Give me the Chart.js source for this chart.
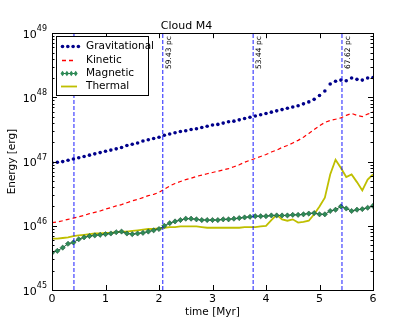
<!DOCTYPE html>
<html>
<head>
<meta charset="utf-8">
<script src="https://cdn.jsdelivr.net/npm/chart.js@4/dist/chart.umd.min.js"></script>
<style>
  html, body { margin: 0; padding: 0; background: #fff; }
  canvas { display: block; }
</style>
</head>
<body>
<canvas id="energyChart" width="415" height="332"></canvas>
<script>
// time axis [Myr]
const time = [
  0.0, 0.1, 0.2, 0.3, 0.4, 0.5, 0.6, 0.7, 0.8, 0.9,
  1.0, 1.1, 1.2, 1.3, 1.4, 1.5, 1.6, 1.7, 1.8, 1.9,
  2.0, 2.1, 2.2, 2.3, 2.4, 2.5, 2.6, 2.7, 2.8, 2.9,
  3.0, 3.1, 3.2, 3.3, 3.4, 3.5, 3.6, 3.7, 3.8, 3.9,
  4.0, 4.1, 4.2, 4.3, 4.4, 4.5, 4.6, 4.7, 4.8, 4.9,
  5.0, 5.1, 5.2, 5.3, 5.4, 5.5, 5.6, 5.7, 5.8, 5.9, 6.0
];

// energies [erg]
const gravitational = [
  9.55e46, 9.77e46, 1.00e47, 1.05e47, 1.10e47, 1.15e47, 1.20e47, 1.26e47, 1.32e47, 1.38e47,
  1.45e47, 1.51e47, 1.58e47, 1.66e47, 1.78e47, 1.86e47, 1.95e47, 2.09e47, 2.19e47, 2.29e47,
  2.40e47, 2.57e47, 2.69e47, 2.82e47, 2.95e47, 3.02e47, 3.16e47, 3.24e47, 3.39e47, 3.55e47,
  3.72e47, 3.80e47, 3.98e47, 4.17e47, 4.27e47, 4.47e47, 4.68e47, 4.90e47, 5.13e47, 5.37e47,
  5.62e47, 5.89e47, 6.17e47, 6.46e47, 6.76e47, 7.08e47, 7.41e47, 7.94e47, 8.51e47, 9.33e47,
  1.07e48, 1.26e48, 1.62e48, 1.78e48, 1.86e48, 1.82e48, 2.00e48, 1.91e48, 1.86e48, 2.00e48, 2.04e48
];
const kinetic = [
  1.12e46, 1.15e46, 1.20e46, 1.26e46, 1.32e46, 1.38e46, 1.45e46, 1.55e46, 1.62e46, 1.70e46,
  1.82e46, 1.91e46, 2.04e46, 2.14e46, 2.29e46, 2.45e46, 2.57e46, 2.75e46, 2.95e46, 3.09e46,
  3.31e46, 3.72e46, 4.17e46, 4.57e46, 4.90e46, 5.25e46, 5.50e46, 5.89e46, 6.17e46, 6.46e46,
  6.76e46, 7.08e46, 7.41e46, 7.76e46, 8.32e46, 8.91e46, 9.77e46, 1.05e47, 1.12e47, 1.20e47,
  1.29e47, 1.41e47, 1.51e47, 1.66e47, 1.78e47, 1.95e47, 2.14e47, 2.40e47, 2.75e47, 3.16e47,
  3.63e47, 4.07e47, 4.37e47, 4.57e47, 4.79e47, 5.25e47, 5.62e47, 5.25e47, 5.01e47, 5.50e47, 5.89e47
];
const magnetic = [
  3.80e45, 4.07e45, 4.57e45, 5.25e45, 5.50e45, 6.17e45, 6.61e45, 6.92e45, 7.08e45, 7.24e45,
  7.41e45, 7.59e45, 7.94e45, 8.13e45, 7.59e45, 7.41e45, 7.59e45, 7.76e45, 8.13e45, 8.51e45,
  8.91e45, 1.00e46, 1.10e46, 1.17e46, 1.23e46, 1.29e46, 1.29e46, 1.26e46, 1.23e46, 1.23e46,
  1.23e46, 1.23e46, 1.26e46, 1.26e46, 1.29e46, 1.32e46, 1.35e46, 1.38e46, 1.41e46, 1.41e46,
  1.41e46, 1.45e46, 1.45e46, 1.45e46, 1.45e46, 1.48e46, 1.48e46, 1.51e46, 1.55e46, 1.58e46,
  1.51e46, 1.51e46, 1.70e46, 1.78e46, 2.00e46, 1.86e46, 1.70e46, 1.78e46, 1.82e46, 1.91e46, 2.04e46
];
const thermal = [
  6.31e45, 6.31e45, 6.46e45, 6.61e45, 6.92e45, 7.08e45, 7.24e45, 7.41e45, 7.59e45, 7.59e45,
  7.76e45, 7.76e45, 7.94e45, 8.13e45, 8.13e45, 8.32e45, 8.51e45, 8.71e45, 8.91e45, 8.91e45,
  9.12e45, 9.33e45, 9.55e45, 9.55e45, 9.77e45, 9.77e45, 9.77e45, 9.77e45, 9.55e45, 9.33e45,
  9.33e45, 9.33e45, 9.33e45, 9.33e45, 9.33e45, 9.33e45, 9.55e45, 9.55e45, 9.55e45, 9.77e45,
  1.00e46, 1.23e46, 1.48e46, 1.26e46, 1.20e46, 1.26e46, 1.12e46, 1.15e46, 1.20e46, 1.51e46,
  2.00e46, 2.75e46, 6.31e46, 1.07e47, 7.94e46, 5.75e46, 6.31e46, 4.79e46, 3.55e46, 5.25e46, 6.31e46
];

// dashed vertical markers and their labels
const markerTimes = [0.41, 2.07, 3.76, 5.42];
const markerLabels = ["", "59.43 pc", "53.44 pc", "67.62 pc"];

// y axis decades
const yDecades = [45, 46, 47, 48, 49];
const xTicks = [0, 1, 2, 3, 4, 5, 6];

const FONT = "'DejaVu Sans', 'Liberation Sans', sans-serif";

function pairs(ys) {
  return time.map((t, i) => ({ x: t, y: ys[i] }));
}

const series = [
  {
    label: "Gravitational",
    data: pairs(gravitational),
    showLine: false,
    pointRadius: 1.8,
    pointBackgroundColor: "#00008b",
    pointBorderWidth: 0,
    borderColor: "#00008b",
  },
  {
    label: "Kinetic",
    data: pairs(kinetic),
    borderColor: "#ff0000",
    borderWidth: 1.2,
    borderDash: [4, 3],
    pointRadius: 0,
  },
  {
    label: "Magnetic",
    data: pairs(magnetic),
    borderColor: "#1f6b3c",
    borderWidth: 1,
    pointStyle: "rectRot",
    pointRadius: 2.6,
    pointBackgroundColor: "#2e8b57",
    pointBorderColor: "#1d5234",
    pointBorderWidth: 0.6,
  },
  {
    label: "Thermal",
    data: pairs(thermal),
    borderColor: "#bfbf00",
    borderWidth: 1.8,
    pointRadius: 0,
  },
];

const markerSets = markerTimes.map((t) => ({
  label: "marker",
  data: [{ x: t, y: 1e45 }, { x: t, y: 1e49 }],
  borderColor: "rgba(0, 0, 255, 0.75)",
  borderWidth: 1.2,
  borderDash: [4, 2],
  pointRadius: 0,
}));

// frame, inward ticks, y labels, marker labels and legend box
const framePlugin = {
  id: "frame",
  afterDraw(chart) {
    const ctx = chart.ctx;
    const a = chart.chartArea;
    const xs = chart.scales.x;
    const ys = chart.scales.y;
    ctx.save();

    // marker labels
    ctx.fillStyle = "#000";
    ctx.font = "7.5px " + FONT;
    ctx.textAlign = "right";
    ctx.textBaseline = "middle";
    markerTimes.forEach((t, i) => {
      if (!markerLabels[i]) return;
      const px = xs.getPixelForValue(t);
      ctx.save();
      ctx.translate(px + 6, a.top + 3);
      ctx.rotate(-Math.PI / 2);
      ctx.fillText(markerLabels[i], 0, 0);
      ctx.restore();
    });

    // y tick labels as 10^n
    yDecades.forEach((e) => {
      const py = ys.getPixelForValue(Math.pow(10, e));
      ctx.font = "8px " + FONT;
      ctx.textAlign = "left";
      ctx.textBaseline = "alphabetic";
      const ew = ctx.measureText(String(e)).width;
      const right = a.left - 5;
      ctx.fillText(String(e), right - ew, py - 2);
      ctx.font = "11px " + FONT;
      ctx.textAlign = "right";
      ctx.fillText("10", right - ew, py + 4.5);
    });

    ctx.strokeStyle = "#000";
    ctx.lineWidth = 1;
    ctx.strokeRect(Math.round(a.left) + 0.5, Math.round(a.top) + 0.5,
      Math.round(a.right - a.left), Math.round(a.bottom - a.top));

    ctx.beginPath();
    xTicks.forEach((t) => {
      const px = Math.round(xs.getPixelForValue(t)) + 0.5;
      ctx.moveTo(px, a.bottom); ctx.lineTo(px, a.bottom - 5);
      ctx.moveTo(px, a.top); ctx.lineTo(px, a.top + 5);
    });
    yDecades.forEach((e) => {
      const py = Math.round(ys.getPixelForValue(Math.pow(10, e))) + 0.5;
      ctx.moveTo(a.left, py); ctx.lineTo(a.left + 5, py);
      ctx.moveTo(a.right, py); ctx.lineTo(a.right - 5, py);
      if (e === 49) return;
      for (let k = 2; k <= 9; k++) {
        const pm = Math.round(ys.getPixelForValue(k * Math.pow(10, e))) + 0.5;
        ctx.moveTo(a.left, pm); ctx.lineTo(a.left + 2.5, pm);
        ctx.moveTo(a.right, pm); ctx.lineTo(a.right - 2.5, pm);
      }
    });
    ctx.stroke();

    // legend
    const lx = a.left + 4, ly = a.top + 3, lw = 92, lh = 59;
    ctx.fillStyle = "#fff";
    ctx.fillRect(lx, ly, lw, lh);
    ctx.strokeStyle = "#000";
    ctx.strokeRect(Math.round(lx) + 0.5, Math.round(ly) + 0.5, lw, lh);
    ctx.font = "10.5px " + FONT;
    ctx.textAlign = "left";
    ctx.textBaseline = "middle";
    series.forEach((s, i) => {
      const y = Math.round(ly + 10 + i * 13.3) + 0.5;
      const x0 = lx + 5, x1 = lx + 25;
      ctx.save();
      if (s.label === "Gravitational") {
        ctx.fillStyle = "#00008b";
        for (let k = 0; k < 4; k++) {
          ctx.beginPath();
          ctx.arc(x0 + 1.5 + k * 5.3, y, 1.8, 0, Math.PI * 2);
          ctx.fill();
        }
      } else if (s.label === "Magnetic") {
        ctx.strokeStyle = "#1f6b3c";
        ctx.lineWidth = 1;
        ctx.beginPath(); ctx.moveTo(x0, y); ctx.lineTo(x1 - 4, y); ctx.stroke();
        for (let k = 0; k < 4; k++) {
          const cx = x0 + 1.5 + k * 4.4;
          ctx.fillStyle = "#2e8b57";
          ctx.beginPath();
          ctx.moveTo(cx, y - 2.8); ctx.lineTo(cx + 2, y); ctx.lineTo(cx, y + 2.8); ctx.lineTo(cx - 2, y);
          ctx.closePath();
          ctx.fill();
        }
      } else if (s.label === "Kinetic") {
        ctx.strokeStyle = "#ff0000";
        ctx.lineWidth = 1.3;
        ctx.setLineDash([4, 3]);
        ctx.beginPath(); ctx.moveTo(x0 + 1, y); ctx.lineTo(x0 + 15, y); ctx.stroke();
      } else {
        ctx.strokeStyle = "#bfbf00";
        ctx.lineWidth = 1.8;
        ctx.beginPath(); ctx.moveTo(x0, y); ctx.lineTo(x1 - 4, y); ctx.stroke();
      }
      ctx.restore();
      ctx.fillStyle = "#000";
      ctx.fillText(s.label, lx + 30, y);
    });
    ctx.restore();
  },
};

const ctx = document.getElementById("energyChart").getContext("2d");
const energyChart = new Chart(ctx, {
  type: "line",
  data: { datasets: [...markerSets, ...series] },
  options: {
    responsive: false,
    animation: false,
    devicePixelRatio: 1,
    layout: { padding: { left: 0, right: 42, top: 0, bottom: 0 } },
    plugins: {
      legend: { display: false },
      tooltip: { enabled: false },
      title: {
        display: true,
        text: "Cloud M4",
        color: "#000",
        font: { family: FONT, size: 11, weight: "normal" },
        padding: { top: 20, bottom: 0 },
      },
    },
    scales: {
      x: {
        type: "linear",
        min: 0,
        max: 6,
        grid: { display: false, drawTicks: false },
        border: { display: false },
        afterBuildTicks: (scale) => {
          scale.ticks = xTicks.map((v) => ({ value: v }));
        },
        afterFit: (scale) => { scale.height = 42; },
        ticks: {
          color: "#000",
          padding: 3,
          maxRotation: 0,
          font: { family: FONT, size: 11 },
        },
        title: {
          display: true,
          text: "time [Myr]",
          color: "#000",
          font: { family: FONT, size: 10.5 },
          padding: { top: 0, bottom: 13 },
        },
      },
      y: {
        type: "logarithmic",
        min: 1e45,
        max: 1e49,
        grid: { display: false, drawTicks: false },
        border: { display: false },
        afterBuildTicks: (scale) => {
          scale.ticks = yDecades.map((e) => ({ value: Math.pow(10, e) }));
        },
        afterFit: (scale) => { scale.width = 52; },
        ticks: {
          display: true,
          color: "rgba(0,0,0,0)",
          padding: 5,
          font: { family: FONT, size: 10.5 },
          callback: () => "",
        },
        title: {
          display: true,
          text: "Energy [erg]",
          color: "#000",
          font: { family: FONT, size: 10.5 },
          padding: { top: 6, bottom: 0 },
        },
      },
    },
  },
  plugins: [framePlugin],
});
</script>
</body>
</html>
